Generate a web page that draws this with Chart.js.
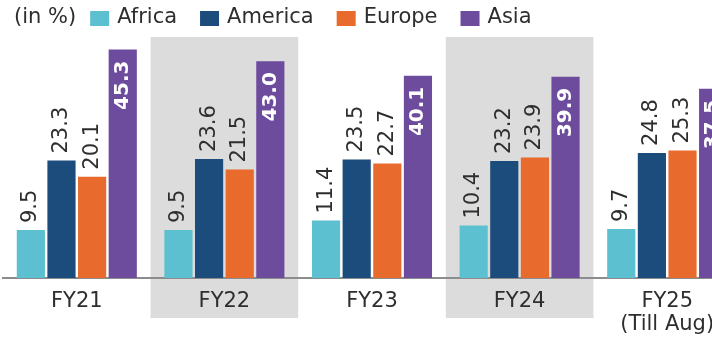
<!DOCTYPE html>
<html>
<head>
<meta charset="utf-8">
<script src="https://cdn.jsdelivr.net/npm/chart.js@4.4.1/dist/chart.umd.min.js"></script>
<style>
    html, body { margin: 0; padding: 0; background: #ffffff; overflow: hidden; }
    #wrap { width: 712px; height: 341px; overflow: hidden; }
</style>
</head>
<body>
<div id="wrap"><canvas id="regionChart"></canvas></div>
<script>
// Доля регионов по годам, %
const years = ['FY21', 'FY22', 'FY23', 'FY24', ['FY25', '(Till Aug)']];
const regions = ['Africa', 'America', 'Europe', 'Asia'];
const africa = [9.5, 9.5, 11.4, 10.4, 9.7];
const america = [23.3, 23.6, 23.5, 23.2, 24.8];
const europe = [20.1, 21.5, 22.7, 23.9, 25.3];
const asia = [45.3, 43.0, 40.1, 39.9, 37.5];
const unitNote = '(in %)';

const colors = ['#5cc0d0', '#1b4c7c', '#e86a2c', '#6d4b9d'];
const FONT = '"DejaVu Sans", "Open Sans", sans-serif';

const canvas = document.getElementById('regionChart');
canvas.width = 744;
canvas.height = 341;
const ctx = canvas.getContext('2d');

// Серые полосы под чётными годами
const bandsPlugin = {
    id: 'bandsPlugin',
    beforeDraw: (chart) => {
        const x = chart.scales.x;
        const area = chart.chartArea;
        const half = (x.getPixelForValue(1) - x.getPixelForValue(0)) / 2;
        const c = chart.ctx;
        c.save();
        c.fillStyle = '#dcdcdc';
        for (let i = 1; i < years.length; i += 2) {
            const cx = x.getPixelForValue(i);
            c.fillRect(cx - half, area.top - 9, half * 2, area.bottom - area.top + 49);
        }
        c.restore();
    }
};

// Подписи значений, повёрнутые вертикально
const valueLabelsPlugin = {
    id: 'valueLabelsPlugin',
    afterDatasetsDraw: (chart) => {
        const c = chart.ctx;
        chart.data.datasets.forEach((ds, di) => {
            const meta = chart.getDatasetMeta(di);
            meta.data.forEach((bar, i) => {
                const text = ds.data[i].toFixed(1);
                c.save();
                if (ds.labelInside) {
                    c.translate(bar.x, bar.y + 11);
                    c.rotate(-Math.PI / 2);
                    c.font = 'bold 20px ' + FONT;
                    c.fillStyle = '#ffffff';
                    c.textAlign = 'right';
                } else {
                    c.translate(bar.x, bar.y - 7);
                    c.rotate(-Math.PI / 2);
                    c.font = '21px ' + FONT;
                    c.fillStyle = '#2e2e2e';
                    c.textAlign = 'left';
                }
                c.textBaseline = 'middle';
                c.fillText(text, 0, 0);
                c.restore();
            });
        });
    }
};

// Легенда в одну строку с пометкой единиц
const legendRowPlugin = {
    id: 'legendRowPlugin',
    afterDraw: (chart) => {
        const c = chart.ctx;
        const y = 18;
        c.save();
        c.font = '21px ' + FONT;
        c.textBaseline = 'middle';
        c.textAlign = 'left';
        c.fillStyle = '#2e2e2e';
        let x = 14;
        c.fillText(unitNote, x, y);
        x += c.measureText(unitNote).width + 14;
        chart.data.datasets.forEach((ds) => {
            c.fillStyle = ds.backgroundColor;
            c.fillRect(x, y - 7, 19, 15);
            x += 27;
            c.fillStyle = '#2e2e2e';
            c.fillText(ds.label, x, y);
            x += c.measureText(ds.label).width + 23;
        });
        c.restore();
    }
};

const seriesValues = [africa, america, europe, asia];

const regionChart = new Chart(ctx, {
    type: 'bar',
    data: {
        labels: years,
        datasets: regions.map((name, i) => ({
            label: name,
            data: seriesValues[i],
            backgroundColor: colors[i],
            categoryPercentage: 0.83,
            barPercentage: 0.92,
            labelInside: name === 'Asia'
        }))
    },
    options: {
        responsive: false,
        maintainAspectRatio: false,
        animation: false,
        layout: {
            padding: { top: 46, bottom: 5, left: 3, right: 3 }
        },
        plugins: {
            legend: { display: false },
            tooltip: { enabled: false },
            title: { display: false }
        },
        scales: {
            x: {
                grid: { display: false, drawTicks: false },
                border: { display: true, color: '#8c8c8c', width: 2 },
                ticks: {
                    padding: 12,
                    maxRotation: 0,
                    autoSkip: false,
                    color: '#2e2e2e',
                    font: { family: FONT, size: 21, lineHeight: 1.1 }
                },
                afterFit: (scale) => {
                    scale.height = 58;
                }
            },
            y: {
                display: false,
                min: 0,
                max: 46
            }
        }
    },
    plugins: [bandsPlugin, valueLabelsPlugin, legendRowPlugin]
});
</script>
</body>
</html>
